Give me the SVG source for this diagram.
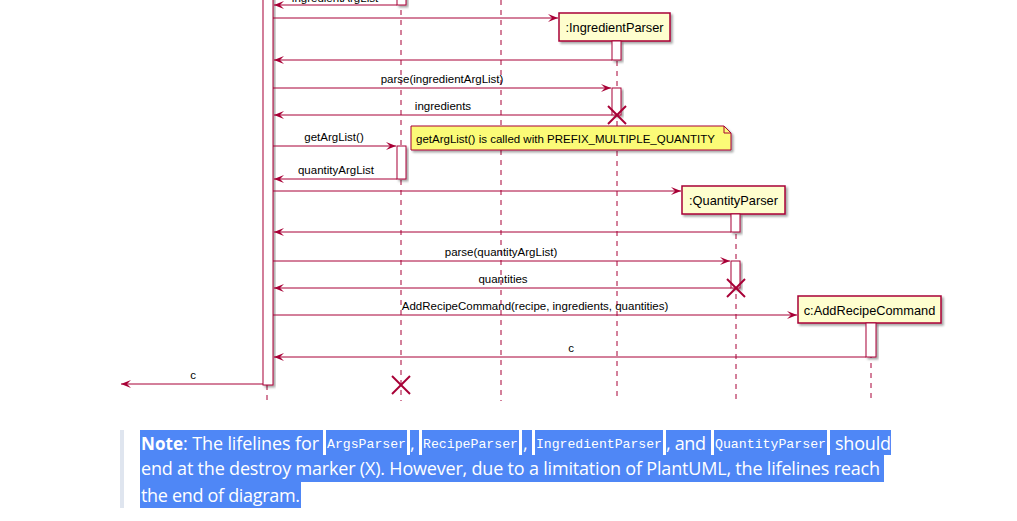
<svg xmlns="http://www.w3.org/2000/svg" width="1017" height="521" viewBox="0 0 1017 521">
<style>
.life{stroke:#A80036;stroke-width:1;stroke-dasharray:5,5;fill:none}
.msg{stroke:#A80036;stroke-width:1;fill:none;marker-end:url(#ah)}
.act{fill:#FFFFFF;stroke:#A80036;stroke-width:1;filter:url(#sh)}
.part{fill:#FEFECE;stroke:#A80036;stroke-width:1.5;filter:url(#sh)}
.x{stroke:#A80036;stroke-width:2}
.lbl{font-family:"Liberation Sans",Arial,sans-serif;font-size:11.5px;fill:#000;text-anchor:middle}
.pn{font-family:"Liberation Sans",Arial,sans-serif;font-size:12.8px;fill:#000;text-anchor:middle}
.nt{font-family:"Liberation Sans",Arial,sans-serif;font-size:11.5px;fill:#000}
.bq{font-family:"Open Sans","Noto Sans",sans-serif;font-size:18px;fill:#FFFFFF}
.cd{font-family:"Liberation Mono","DejaVu Sans Mono",monospace;font-size:13px;fill:#FFFFFF}
.hl{fill:#4F87F6}
.gap{fill:#FFFFFF}
</style>
<defs>
<marker id="ah" markerWidth="10" markerHeight="8" refX="10" refY="4" orient="auto" markerUnits="userSpaceOnUse">
<path d="M0,0 L10,4 L0,8 L4,4 Z" fill="#A80036"/>
</marker>
<filter id="sh" x="-20%" y="-20%" width="150%" height="150%">
<feDropShadow dx="2" dy="2" stdDeviation="1.2" flood-color="#000" flood-opacity="0.35"/>
</filter>
</defs>
<rect width="1017" height="521" fill="#FFFFFF"/>

<g id="lifelines">
<line class="life" x1="267" y1="385" x2="267" y2="401"/>
<line class="life" x1="401" y1="0" x2="401" y2="401"/>
<line class="life" x1="501" y1="0" x2="501" y2="401"/>
<line class="life" x1="617" y1="41" x2="617" y2="401"/>
<line class="life" x1="736" y1="214" x2="736" y2="401"/>
<line class="life" x1="871" y1="323" x2="871" y2="401"/>
</g>

<g id="main">
<rect class="act" x="263" y="-5" width="10" height="390"/>
</g>

<g id="argsParser">
<rect class="act" x="397" y="-10" width="9" height="15"/>
<rect class="act" x="397" y="146" width="9" height="33"/>
<line class="x" x1="392" y1="376" x2="410" y2="394"/>
<line class="x" x1="410" y1="376" x2="392" y2="394"/>
</g>

<g id="ingredientParser">
<rect class="part" x="559" y="13" width="111" height="28"/>
<text class="pn" x="614.5" y="32">:IngredientParser</text>
<rect class="act" x="612" y="41" width="9" height="19"/>
<rect class="act" x="612" y="88" width="9" height="27"/>
<line class="x" x1="608" y1="106" x2="626" y2="124"/>
<line class="x" x1="626" y1="106" x2="608" y2="124"/>
</g>

<g id="quantityParser">
<rect class="part" x="682" y="186" width="103" height="28"/>
<text class="pn" x="733.5" y="205">:QuantityParser</text>
<rect class="act" x="731" y="214" width="9" height="18"/>
<rect class="act" x="731" y="261" width="9" height="27"/>
<line class="x" x1="727" y1="279" x2="745" y2="297"/>
<line class="x" x1="745" y1="279" x2="727" y2="297"/>
</g>

<g id="addRecipeCommand">
<rect class="part" x="798" y="296" width="143" height="27"/>
<text class="pn" x="869.5" y="315">c:AddRecipeCommand</text>
<rect class="act" x="866" y="323" width="10" height="34"/>
</g>

<g id="note">
<path d="M411,126 L724,126 L731,133 L731,150 L411,150 Z" fill="#FBFB77" stroke="#A80036" stroke-width="1" filter="url(#sh)"/>
<path d="M724,126 L724,133 L731,133" fill="none" stroke="#A80036" stroke-width="1"/>
<text class="nt" x="416" y="143">getArgList() is called with PREFIX_MULTIPLE_QUANTITY</text>
</g>

<g id="connectors">
<line class="msg" x1="397" y1="5" x2="274" y2="5"/>
<text class="lbl" x="335" y="2">ingredientArgList</text>
<line class="msg" x1="273" y1="18" x2="558" y2="18"/>
<line class="msg" x1="612" y1="60" x2="274" y2="60"/>
<line class="msg" x1="273" y1="88" x2="611" y2="88"/>
<text class="lbl" x="442" y="83">parse(ingredientArgList)</text>
<line class="msg" x1="612" y1="115" x2="274" y2="115"/>
<text class="lbl" x="443" y="110">ingredients</text>
<line class="msg" x1="273" y1="146" x2="396" y2="146"/>
<text class="lbl" x="334" y="141">getArgList()</text>
<line class="msg" x1="397" y1="179" x2="274" y2="179"/>
<text class="lbl" x="336" y="174">quantityArgList</text>
<line class="msg" x1="273" y1="191" x2="681" y2="191"/>
<line class="msg" x1="731" y1="232" x2="274" y2="232"/>
<line class="msg" x1="273" y1="261" x2="730" y2="261"/>
<text class="lbl" x="501" y="256">parse(quantityArgList)</text>
<line class="msg" x1="731" y1="288" x2="274" y2="288"/>
<text class="lbl" x="503" y="283">quantities</text>
<line class="msg" x1="273" y1="315" x2="797" y2="315"/>
<text class="lbl" x="535" y="310">AddRecipeCommand(recipe, ingredients, quantities)</text>
<line class="msg" x1="866" y1="357" x2="274" y2="357"/>
<text class="lbl" x="571" y="352">c</text>
<line class="msg" x1="263" y1="384" x2="121" y2="384"/>
<text class="lbl" x="193" y="379">c</text>
</g>

<g id="blockquote">
<rect x="120" y="430" width="4" height="78" fill="#DFE5EF"/>
<rect class="hl" x="140" y="430" width="751" height="25"/>
<rect class="hl" x="140" y="455" width="744" height="27"/>
<rect class="hl" x="140" y="482" width="161" height="26"/>
<rect class="gap" x="323" y="430" width="3" height="25"/>
<rect class="gap" x="407" y="430" width="3" height="25"/>
<rect class="gap" x="419" y="430" width="3" height="25"/>
<rect class="gap" x="519" y="430" width="3" height="25"/>
<rect class="gap" x="532" y="430" width="3" height="25"/>
<rect class="gap" x="663" y="430" width="3" height="25"/>
<rect class="gap" x="711" y="430" width="3" height="25"/>
<rect class="gap" x="827" y="430" width="3" height="25"/>
<text class="bq" x="141" y="450" font-weight="bold" textLength="42" lengthAdjust="spacingAndGlyphs">Note</text>
<text class="bq" x="183" y="450" textLength="136" lengthAdjust="spacing">: The lifelines for</text>
<text class="cd" x="327" y="448" textLength="79" lengthAdjust="spacingAndGlyphs">ArgsParser</text>
<text class="bq" x="410" y="450">,</text>
<text class="cd" x="423" y="448" textLength="95" lengthAdjust="spacingAndGlyphs">RecipeParser</text>
<text class="bq" x="523" y="450">,</text>
<text class="cd" x="536" y="448" textLength="126" lengthAdjust="spacingAndGlyphs">IngredientParser</text>
<text class="bq" x="666" y="450" textLength="40" lengthAdjust="spacing">, and</text>
<text class="cd" x="715" y="448" textLength="111" lengthAdjust="spacingAndGlyphs">QuantityParser</text>
<text class="bq" x="835" y="450" textLength="56" lengthAdjust="spacing">should</text>
<text class="bq" x="141" y="475" textLength="739" lengthAdjust="spacing">end at the destroy marker (X). However, due to a limitation of PlantUML, the lifelines reach</text>
<text class="bq" x="141" y="502" textLength="159" lengthAdjust="spacing">the end of diagram.</text>
</g>
</svg>
